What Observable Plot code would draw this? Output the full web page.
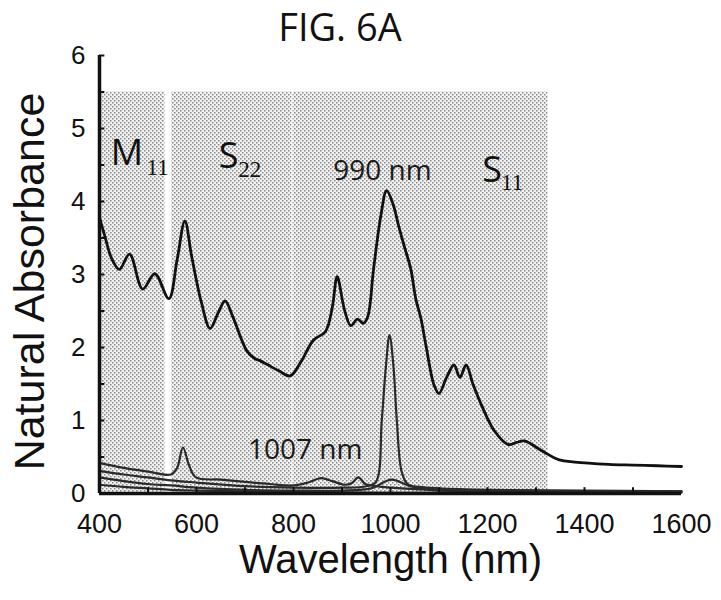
<!DOCTYPE html>
<html><head><meta charset="utf-8">
<script src="https://cdn.jsdelivr.net/npm/d3@7"></script>
<script src="https://cdn.jsdelivr.net/npm/@observablehq/plot@0.6"></script>
<style>
body{margin:0;background:#fff;}
#title{height:42px;width:680px;text-align:center;font-family:'Open Sans',sans-serif;font-size:38px;line-height:52px;color:#111;white-space:nowrap;overflow:visible;}
#chart svg{display:block;}
</style></head><body>
<div id="title">FIG. 6A</div>
<div id="chart"></div>
<script>
// Main spectrum (S11/S22/M11 features)
const mainWl  = [400, 410, 425, 441, 462, 489, 514, 543, 560, 576, 590, 610, 628, 645, 659, 675, 704, 720, 731, 745, 770, 793, 815, 841, 866, 880, 890, 905, 918, 932, 944, 953, 965, 980, 992, 1005, 1017, 1030, 1042, 1052, 1063, 1073, 1090, 1100, 1115, 1131, 1143, 1156, 1170, 1187, 1214, 1243, 1260, 1276, 1311, 1348, 1380, 1450, 1500, 1550, 1600];
const mainAbs = [3.78, 3.55, 3.22, 3.07, 3.28, 2.80, 3.01, 2.67, 3.20, 3.73, 3.25, 2.62, 2.26, 2.48, 2.64, 2.42, 1.95, 1.85, 1.82, 1.77, 1.68, 1.61, 1.80, 2.10, 2.22, 2.55, 2.97, 2.52, 2.30, 2.39, 2.33, 2.42, 3.07, 3.80, 4.15, 3.97, 3.66, 3.35, 3.07, 2.67, 2.39, 2.03, 1.48, 1.37, 1.58, 1.76, 1.59, 1.76, 1.50, 1.22, 0.86, 0.67, 0.70, 0.72, 0.59, 0.46, 0.43, 0.40, 0.39, 0.38, 0.37];

// Lower spectra
const lowAWl  = [400, 450, 500, 547, 560, 572, 585, 599, 650, 700, 750, 800, 830, 857, 880, 905, 920, 934, 948, 970, 1000, 1050, 1100, 1200, 1400, 1600];
const lowAAbs = [0.42, 0.35, 0.30, 0.26, 0.35, 0.63, 0.38, 0.22, 0.19, 0.16, 0.13, 0.11, 0.15, 0.21, 0.17, 0.12, 0.14, 0.22, 0.13, 0.10, 0.08, 0.06, 0.05, 0.04, 0.03, 0.03];
const lowBWl  = [400, 450, 500, 547, 600, 700, 800, 900, 950, 970, 982, 990, 998, 1006, 1013, 1023, 1035, 1060, 1100, 1200, 1400, 1600];
const lowBAbs = [0.31, 0.26, 0.22, 0.18, 0.15, 0.10, 0.08, 0.08, 0.10, 0.16, 1.00, 1.70, 2.17, 1.75, 1.00, 0.30, 0.13, 0.09, 0.07, 0.05, 0.04, 0.03];
const lowCWl  = [400, 450, 500, 547, 600, 700, 800, 900, 960, 1002, 1040, 1080, 1200, 1600];
const lowCAbs = [0.22, 0.17, 0.13, 0.11, 0.08, 0.05, 0.04, 0.04, 0.07, 0.19, 0.10, 0.05, 0.03, 0.02];
const lowDWl  = [400, 450, 500, 547, 600, 700, 800, 1000, 1600];
const lowDAbs = [0.12, 0.09, 0.07, 0.05, 0.04, 0.03, 0.02, 0.01, 0.01];

// Shaded spectral regions
const regionName  = ["M11", "S22", "S11"];
const regionStart = [400, 549, 799];
const regionEnd   = [535, 797, 1325];
const regionTop   = [5.5, 5.5, 5.5];

// Region labels (letter + subscript) and peak labels
const letterText = ["M", "S", "S"];
const letterWl   = [423, 646, 1189];
const letterAbs  = [4.66, 4.62, 4.42];
const subText    = ["11", "22", "11"];
const subWl      = [497, 686, 1228];
const subAbs     = [4.47, 4.43, 4.26];
const peakText   = ["990 nm", "1007 nm"];
const peakWl     = [882, 706];
const peakAbs    = [4.42, 0.60];

// Axis ticks
const xTicks = [400, 600, 800, 1000, 1200, 1400, 1600];
const yTicks = [0, 1, 2, 3, 4, 5, 6];
const xMinor = [500, 600, 700, 800, 900, 1000, 1100, 1200, 1300, 1400, 1500];
const yMinor = [0.5, 1, 1.5, 2, 2.5, 3, 3.5, 4, 4.5, 5, 5.5, 6];

const toRows = (wl, ab, name) => wl.map((w, i) => ({wl: w, abs: ab[i], curve: name}));
const mainRows = toRows(mainWl, mainAbs, "main");
const lowRows = [
  ...toRows(lowAWl, lowAAbs, "A"),
  ...toRows(lowBWl, lowBAbs, "B"),
  ...toRows(lowCWl, lowCAbs, "C"),
  ...toRows(lowDWl, lowDAbs, "D")
];
const regions = regionName.map((n, i) => ({name: n, start: regionStart[i], end: regionEnd[i], top: regionTop[i]}));
const letters = letterText.map((t, i) => ({t, wl: letterWl[i], abs: letterAbs[i]}));
const subs = subText.map((t, i) => ({t, wl: subWl[i], abs: subAbs[i]}));
const peaks = peakText.map((t, i) => ({t, wl: peakWl[i], abs: peakAbs[i]}));

const SHADE = "#cdcdcd";
const fmt = d => String(d);
const plot = Plot.plot({
  width: 721, height: 558,
  marginLeft: 99, marginRight: 40, marginTop: 13, marginBottom: 107,
  x: {domain: [400, 1600]},
  y: {domain: [0, 6]},
  style: {fontFamily: "'Liberation Sans', Arial, sans-serif", color: "#111", background: "white", overflow: "visible"},
  marks: [
    Plot.rect(regions, {x1: "start", x2: "end", y1: 0, y2: "top", fill: SHADE}),
    Plot.line(lowRows, {x: "wl", y: "abs", z: "curve", stroke: "#2a2a2a", strokeWidth: 2.2, curve: "catmull-rom"}),
    Plot.line(mainRows, {x: "wl", y: "abs", stroke: "#111", strokeWidth: 2.8, curve: "catmull-rom"}),
    Plot.ruleY(yMinor, {x1: 400, x2: 411, stroke: "#111", strokeWidth: 2}),
    Plot.ruleX(xMinor, {y1: 0, y2: 0.08, stroke: "#111", strokeWidth: 2}),
    Plot.ruleX([400], {y1: 0, y2: 6, stroke: "#111", strokeWidth: 3.5}),
    Plot.ruleY([0], {x1: 400, x2: 1600, stroke: "#111", strokeWidth: 3.5}),
    Plot.axisY(yTicks, {tickSize: 0, tickPadding: 14, fontSize: 26, label: null, tickFormat: fmt}),
    Plot.axisX(xTicks, {tickSize: 0, tickPadding: 20, fontSize: 27, label: null, tickFormat: fmt}),
    Plot.text(letters, {x: "wl", y: "abs", text: "t", textAnchor: "start", fontSize: 36, fontFamily: "'Open Sans', sans-serif", fill: "#111"}),
    Plot.text(subs, {x: "wl", y: "abs", text: "t", textAnchor: "start", fontSize: 23, fontFamily: "'Liberation Serif', 'DejaVu Serif', serif", fill: "#111"}),
    Plot.text(peaks, {x: "wl", y: "abs", text: "t", textAnchor: "start", fontSize: 28, fontFamily: "'Open Sans', sans-serif", fill: "#1a1a1a"}),
    Plot.text(["Wavelength (nm)"], {frameAnchor: "bottom", textAnchor: "middle", dy: 79, fontSize: 40, fill: "#111"}),
    Plot.text(["Natural Absorbance"], {frameAnchor: "left", textAnchor: "middle", dx: -69, dy: 7, rotate: -90, fontSize: 43, fill: "#111"})
  ]
});

const ns = "http://www.w3.org/2000/svg";
const defs = document.createElementNS(ns, "defs");
defs.innerHTML = '<pattern id="stipple" width="4" height="4" patternUnits="userSpaceOnUse">' +
  '<rect width="4" height="4" fill="#f2f2f2"/>' +
  '<rect x="0" y="0" width="1.5" height="1.5" fill="#888"/>' +
  '<rect x="2" y="2" width="1.5" height="1.5" fill="#888"/></pattern>';
plot.insertBefore(defs, plot.firstChild);
plot.querySelectorAll('[fill="' + SHADE + '"]').forEach(el => el.setAttribute("fill", "url(#stipple)"));
document.getElementById("chart").appendChild(plot);
</script>
</body></html>
